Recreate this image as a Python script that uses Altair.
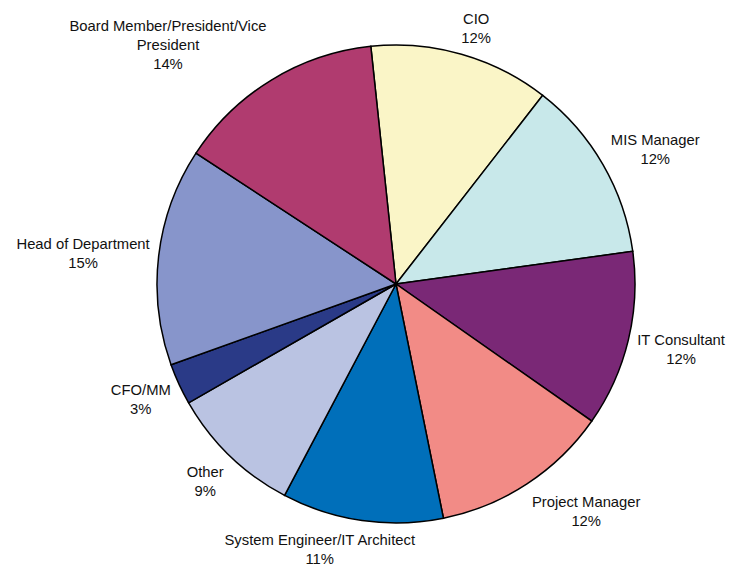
import math
import altair as alt
import pandas as pd

# ---- data (clockwise from the top) ----
categories = ["CIO", "MIS Manager", "IT Consultant", "Project Manager",
              "System Engineer/IT Architect", "Other", "CFO/MM",
              "Head of Department", "Board Member/President/Vice President"]
label_names = ["CIO", "MIS Manager", "IT Consultant", "Project Manager",
               "System Engineer/IT Architect", "Other", "CFO/MM",
               "Head of Department", "Board Member/President/Vice\nPresident"]
shares = [12.2, 12.3, 11.9, 12.1, 10.9, 9.0, 2.8, 14.7, 14.1]
colors = ["#FAF5C7", "#C8E8EA", "#7A2876", "#F28B86", "#006FBA",
          "#BAC3E2", "#2A3A87", "#8795CB", "#B03B6F"]

# ---- layout / style ----
W, H = 662, 552
R = 239
GAP = 9
START = math.radians(-6.05)
FS = 14.8
LH = 19
BASE_SHIFT = 2.5  # optical centring of the text block

# Arial advance widths (1/1000 em) for label size estimation
AW = {" ": 278, "/": 278, "%": 889, "A": 667, "B": 667, "C": 722, "D": 722,
      "E": 667, "F": 611, "G": 778, "H": 722, "I": 278, "M": 833, "O": 778,
      "P": 667, "S": 667, "T": 611, "V": 667, "a": 556, "b": 556, "c": 500,
      "d": 556, "e": 556, "f": 278, "g": 556, "h": 556, "i": 222, "j": 222,
      "l": 222, "m": 833, "n": 556, "o": 556, "p": 556, "r": 333, "s": 500,
      "t": 278, "u": 556, "v": 500}


def text_w(s):
    return sum(AW.get(ch, 556) for ch in s) * FS / 1000.0


def clamp(v):
    return max(-1.0, min(1.0, v))


total = sum(shares)
rows = []
cum = 0.0
for i, (cat, name, v) in enumerate(zip(categories, label_names, shares)):
    mid = START + 2 * math.pi * (cum + v / 2) / total
    cum += v
    text = name + "\n" + f"{round(v)}%"
    lines = text.split("\n")
    w = max(text_w(s) for s in lines)
    h = len(lines) * LH
    s, c = math.sin(mid), math.cos(mid)
    px, py = (R + GAP) * s, -(R + GAP) * c
    cx = W / 2 + px + w / 2 * clamp(3 * s)
    cy = H / 2 + py + h / 2 * clamp(-1.3 * c) + BASE_SHIFT
    # the text mark anchors its first line, so move up by half the block
    rows.append({"idx": i, "category": cat, "share": v, "label": text,
                 "lx": cx, "ly": cy - (len(lines) - 1) * LH / 2})

df = pd.DataFrame(rows)

base = alt.Chart(df)

pie = base.mark_arc(outerRadius=R, stroke="black", strokeWidth=1.5).encode(
    theta=alt.Theta("share:Q", stack=True,
                    scale=alt.Scale(range=[START, START + 2 * math.pi])),
    color=alt.Color("category:N",
                    scale=alt.Scale(domain=categories, range=colors),
                    legend=None),
    order=alt.Order("idx:Q"),
)

labels = base.mark_text(font="Liberation Sans", fontSize=FS, lineHeight=LH,
                        lineBreak="\n", align="center", baseline="middle",
                        color="#111111").encode(
    x=alt.X("lx:Q", scale=None, axis=None),
    y=alt.Y("ly:Q", scale=None, axis=None),
    text="label:N",
)

chart = alt.layer(pie, labels).properties(
    width=W, height=H,
    padding={"left": 57, "top": 0, "right": 0, "bottom": 6},
    autosize=alt.AutoSizeParams(type="none"),
).configure_view(stroke=None)

chart.save("out.html", embed_options={"renderer": "svg", "actions": False})
